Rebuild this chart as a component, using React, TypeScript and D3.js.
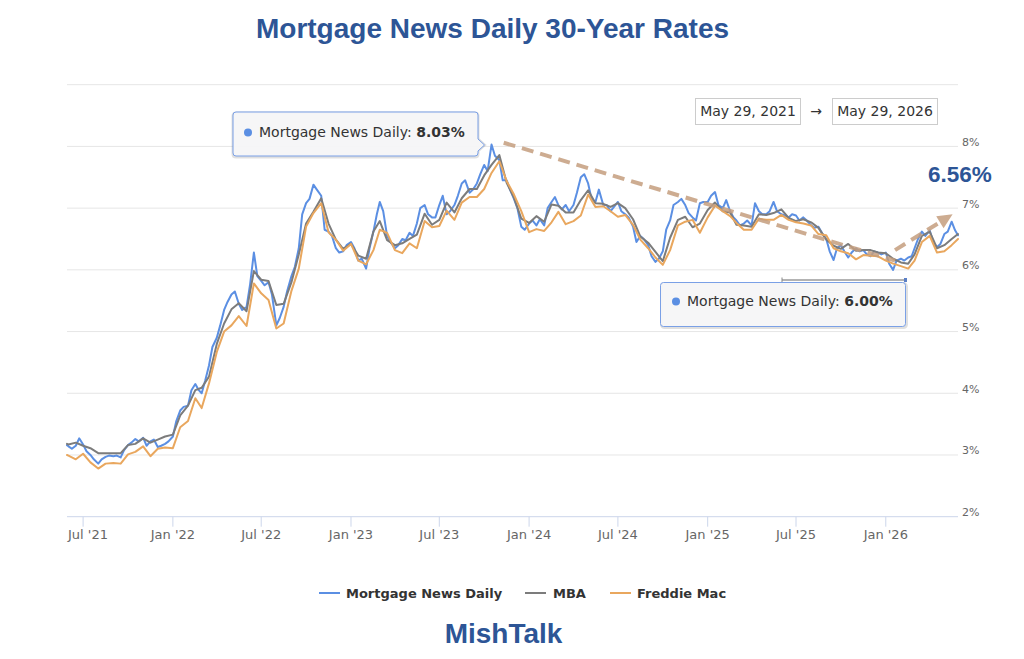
import React from "react";
import * as d3 from "d3";

// ---------------- DATA ----------------
const seriesNames = ["Mortgage News Daily", "MBA", "Freddie Mac"];
const seriesColors = ["#5b8fe3", "#7c7c7c", "#e9a75e"];

const rangeStart = "May 29, 2021";
const rangeEnd = "May 29, 2026";

// Mortgage News Daily, ~weekly (days 1, 8, 16, 23 of each month)
const mndStart = 3.16;
const mnd2021 = [
  3.14, 3.10, 3.15, 3.27, 3.17, 3.06, 3.00, 2.93, 2.86, 2.93, 2.97, 2.99,
  2.98, 2.99, 2.96, 3.08, 3.16, 3.20, 3.26, 3.22, 3.28, 3.15, 3.22, 3.25,
  3.13, 3.15, 3.18, 3.22,
];
const mnd2022 = [
  3.30, 3.55, 3.72, 3.78, 3.80, 4.05, 4.15, 4.05, 4.00, 4.20, 4.45, 4.75,
  4.90, 5.10, 5.35, 5.48, 5.60, 5.65, 5.45, 5.35, 5.40, 5.75, 6.28, 5.90,
  5.82, 5.75, 5.80, 5.60, 5.10, 5.22, 5.40, 5.65, 5.90, 6.05, 6.35, 6.90,
  7.08, 7.15, 7.38, 7.30, 7.20, 6.65, 6.62, 6.55, 6.35, 6.28, 6.30, 6.40,
];
const mnd2023 = [
  6.45, 6.35, 6.15, 6.18, 6.02, 6.35, 6.62, 6.90, 7.10, 6.95, 6.55, 6.45,
  6.35, 6.40, 6.50, 6.48, 6.60, 6.55, 6.75, 7.00, 7.05, 6.90, 6.85, 6.85,
  7.05, 7.20, 6.90, 6.95, 7.05, 7.20, 7.40, 7.45, 7.25, 7.30, 7.40, 7.55,
  7.70, 7.60, 8.03, 7.85, 7.78, 7.45, 7.45, 7.30, 7.15, 7.00, 6.70, 6.65,
];
const mnd2024 = [
  6.75, 6.80, 6.72, 6.82, 6.72, 7.00, 7.10, 7.18, 7.05, 6.98, 7.05, 6.95,
  7.05, 7.25, 7.50, 7.55, 7.40, 7.15, 7.10, 7.30, 7.05, 7.05, 6.95, 7.02,
  7.10, 6.95, 6.90, 6.85, 6.70, 6.45, 6.55, 6.50, 6.40, 6.22, 6.13, 6.18,
  6.30, 6.65, 6.80, 7.05, 7.10, 7.15, 7.05, 6.92, 6.85, 6.80, 7.08, 7.10,
];
const mnd2025 = [
  7.10, 7.20, 7.26, 7.05, 7.00, 7.13, 6.95, 6.85, 6.80, 6.72, 6.75, 6.80,
  6.72, 7.08, 6.95, 6.90, 6.90, 6.95, 7.10, 6.95, 6.90, 6.88, 6.85, 6.90,
  6.88, 6.80, 6.85, 6.80, 6.72, 6.68, 6.70, 6.60, 6.50, 6.30, 6.16, 6.35,
  6.40, 6.30, 6.20, 6.28, 6.35, 6.30, 6.32, 6.25, 6.22, 6.30, 6.28, 6.25,
];
const mnd2026 = [
  6.28, 6.10, 6.00, 6.15, 6.18, 6.15, 6.20, 6.22, 6.35, 6.50, 6.62, 6.55,
  6.64, 6.45, 6.37, 6.42, 6.58, 6.62, 6.78, 6.64,
];
const mndEnd = 6.56;

// MBA, semi-monthly (days 1, 16)
const mbaStart = 3.18;
const mba2021 = [3.17, 3.20, 3.15, 3.11, 3.03, 3.03, 3.03, 3.03, 3.16, 3.18, 3.27, 3.20, 3.25, 3.30];
const mba2022 = [
  3.33, 3.64, 3.80, 4.05, 4.09, 4.27, 4.80, 5.13, 5.36, 5.46, 5.33, 5.98,
  5.84, 5.82, 5.43, 5.45, 5.80, 6.25, 6.75, 6.94, 7.16, 6.75, 6.49, 6.34,
];
const mba2023 = [
  6.42, 6.23, 6.18, 6.62, 6.79, 6.48, 6.40, 6.43, 6.50, 6.57, 6.91, 6.73,
  6.81, 7.09, 6.93, 7.16, 7.31, 7.31, 7.53, 7.70, 7.86, 7.41, 7.17, 6.83,
];
const mba2024 = [
  6.76, 6.87, 6.78, 7.06, 7.04, 6.93, 6.93, 7.13, 7.29, 7.08, 7.07, 7.02,
  7.08, 7.00, 6.82, 6.54, 6.44, 6.29, 6.14, 6.52, 6.81, 6.86, 6.69, 6.75,
];
const mba2025 = [
  6.97, 7.09, 6.95, 6.93, 6.73, 6.72, 6.70, 6.90, 6.89, 6.92, 6.98, 6.84,
  6.79, 6.82, 6.77, 6.68, 6.49, 6.39, 6.34, 6.42, 6.31, 6.32, 6.32, 6.28,
];
const mba2026 = [6.27, 6.18, 6.12, 6.10, 6.25, 6.55, 6.62, 6.35, 6.40, 6.50];
const mbaEnd = 6.58;

// Freddie Mac, semi-monthly (days 1, 16)
const fmStart = 3.0;
const fm2021 = [2.99, 2.93, 3.02, 2.88, 2.78, 2.86, 2.87, 2.86, 3.01, 3.05, 3.14, 2.98, 3.10, 3.12];
const fm2022 = [
  3.11, 3.45, 3.55, 3.92, 3.76, 4.16, 4.67, 5.00, 5.10, 5.25, 5.09, 5.78,
  5.62, 5.51, 5.05, 5.13, 5.66, 6.02, 6.70, 6.92, 7.08, 6.61, 6.49, 6.31,
];
const fm2023 = [
  6.42, 6.15, 6.09, 6.32, 6.65, 6.60, 6.32, 6.27, 6.43, 6.35, 6.79, 6.69,
  6.71, 6.96, 6.81, 7.09, 7.18, 7.18, 7.31, 7.57, 7.76, 7.44, 7.22, 6.95,
];
const fm2024 = [
  6.61, 6.66, 6.63, 6.77, 6.94, 6.74, 6.79, 6.88, 7.22, 7.02, 7.03, 6.95,
  6.86, 6.89, 6.73, 6.49, 6.35, 6.20, 6.08, 6.32, 6.72, 6.78, 6.81, 6.60,
];
const fm2025 = [
  6.85, 7.04, 6.95, 6.87, 6.76, 6.65, 6.65, 6.83, 6.81, 6.81, 6.89, 6.81,
  6.77, 6.75, 6.72, 6.58, 6.56, 6.35, 6.30, 6.27, 6.17, 6.24, 6.23, 6.22,
];
const fm2026 = [6.15, 6.10, 6.06, 6.02, 6.15, 6.45, 6.55, 6.28, 6.30, 6.40];
const fmEnd = 6.5;

// Y ticks (percent) and x ticks
const yTicks = [2, 3, 4, 5, 6, 7, 8, 9];
const yTickLabels = ["2%", "3%", "4%", "5%", "6%", "7%", "8%", ""];
const xTickDates = [
  "2021-07-01", "2022-01-01", "2022-07-01", "2023-01-01", "2023-07-01",
  "2024-01-01", "2024-07-01", "2025-01-01", "2025-07-01", "2026-01-01",
];
const xTickLabels = [
  "Jul '21", "Jan '22", "Jul '22", "Jan '23", "Jul '23",
  "Jan '24", "Jul '24", "Jan '25", "Jul '25", "Jan '26",
];

// Trend annotations (date, value)
const trendDown = [
  { date: "2023-11-10", v: 8.06 },
  { date: "2026-01-20", v: 6.15 },
];
const trendUp = [
  { date: "2026-01-20", v: 6.32 },
  { date: "2026-05-18", v: 6.9 },
];

// ---------------- HELPERS ----------------
const parse = (s: string) => {
  const [yy, mm, dd] = s.split("-").map(Number);
  return new Date(yy, mm - 1, dd);
};

function buildDates(days: number[]) {
  const out: Date[] = [new Date(2021, 4, 29)];
  for (let m = 0; m < 60; m++) {
    for (const d of days) out.push(new Date(2021, 5 + m, d));
  }
  out.push(new Date(2026, 4, 29));
  return out;
}

const mndVals = [mndStart, ...mnd2021, ...mnd2022, ...mnd2023, ...mnd2024, ...mnd2025, ...mnd2026, mndEnd];
const mbaVals = [mbaStart, ...mba2021, ...mba2022, ...mba2023, ...mba2024, ...mba2025, ...mba2026, mbaEnd];
const fmVals = [fmStart, ...fm2021, ...fm2022, ...fm2023, ...fm2024, ...fm2025, ...fm2026, fmEnd];

const mndDates = buildDates([1, 8, 16, 23]);
const semiDates = buildDates([1, 16]);

const W = 1024;
const H = 659;

export default function App() {
  const x = d3
    .scaleTime()
    .domain([new Date(2021, 4, 29), new Date(2026, 4, 29)])
    .range([67, 958]);
  const y = d3.scaleLinear().domain([2, 9]).range([516.7, 84.7]);

  const line = d3
    .line<[Date, number]>()
    .x((d) => x(d[0]))
    .y((d) => y(d[1]));

  const series = [
    mndDates.map((d, i) => [d, mndVals[i]] as [Date, number]),
    semiDates.map((d, i) => [d, mbaVals[i]] as [Date, number]),
    semiDates.map((d, i) => [d, fmVals[i]] as [Date, number]),
  ];

  const hcFont = "'DejaVu Sans', Verdana, sans-serif";
  const arial = "'Liberation Sans', Arial, sans-serif";
  const titleBlue = "#2d5596";

  const maxV = d3.max(mndVals) as number;
  const minV = d3.min(mnd2026) as number;
  const lastV = mndVals[mndVals.length - 1];
  const fmt = (v: number) => v.toFixed(2) + "%";

  const tdP = trendDown.map((p) => [x(parse(p.date)), y(p.v)]);
  const tuP = trendUp.map((p) => [x(parse(p.date)), y(p.v)]);
  const [ux0, uy0] = tuP[0];
  const [ux1, uy1] = tuP[1];
  const ang = Math.atan2(uy1 - uy0, ux1 - ux0);
  const headLen = 15;
  const headW = 7;
  const bx = ux1 - headLen * Math.cos(ang);
  const by = uy1 - headLen * Math.sin(ang);
  const head = [
    [ux1, uy1],
    [bx + headW * Math.sin(ang), by - headW * Math.cos(ang)],
    [bx - headW * Math.sin(ang), by + headW * Math.cos(ang)],
  ];

  const trendColor = "rgba(196,158,126,0.85)";

  const legendItems = [
    { x: 319, tx: 346 },
    { x: 525, tx: 553 },
    { x: 610, tx: 637 },
  ];

  return (
    <svg
      width={W}
      height={H}
      viewBox={`0 0 ${W} ${H}`}
      style={{ position: "absolute", left: 0, top: 0, background: "#fff" }}
    >
      <rect x={0} y={0} width={W} height={H} fill="#fff" />

      {/* Title */}
      <text
        x={492.5}
        y={38}
        textAnchor="middle"
        fontFamily={arial}
        fontWeight="bold"
        fontSize={28}
        fill={titleBlue}
      >
        Mortgage News Daily 30-Year Rates
      </text>

      {/* Grid lines */}
      {yTicks.map((t) => (
        <line
          key={"g" + t}
          x1={67}
          x2={958}
          y1={y(t)}
          y2={y(t)}
          stroke={t === 2 ? "#ccd6eb" : "#e6e6e6"}
          strokeWidth={1}
        />
      ))}
      {/* Y labels */}
      {yTicks.map((t, i) => (
        <text
          key={"yl" + t}
          x={962}
          y={y(t) - 0.5}
          fontFamily={hcFont}
          fontSize={11}
          fill="#666"
        >
          {yTickLabels[i]}
        </text>
      ))}

      {/* X ticks */}
      {xTickDates.map((s, i) => {
        const xx = x(parse(s));
        return (
          <g key={"xt" + s}>
            <line x1={xx} x2={xx} y1={516.7} y2={526.7} stroke="#ccd6eb" />
            <text
              x={i === 0 ? 68 : xx}
              y={539}
              textAnchor={i === 0 ? "start" : "middle"}
              fontFamily={hcFont}
              fontSize={13}
              fill="#666"
            >
              {xTickLabels[i]}
            </text>
          </g>
        );
      })}

      {/* Series lines */}
      {series.map((s, i) => (
        <path
          key={"s" + i}
          d={line(s) || ""}
          fill="none"
          stroke={seriesColors[i]}
          strokeWidth={2}
          strokeLinejoin="round"
          strokeLinecap="round"
        />
      ))}

      {/* Trend annotations */}
      <line
        x1={tdP[0][0]}
        y1={tdP[0][1]}
        x2={tdP[1][0]}
        y2={tdP[1][1]}
        stroke={trendColor}
        strokeWidth={4}
        strokeDasharray="12,7"
      />
      <line
        x1={ux0}
        y1={uy0}
        x2={bx}
        y2={by}
        stroke={trendColor}
        strokeWidth={4}
        strokeDasharray="12,7"
      />
      <polygon points={head.map((p) => p.join(",")).join(" ")} fill={trendColor} />

      {/* Last value label */}
      <text
        x={928}
        y={182}
        fontFamily={arial}
        fontWeight="bold"
        fontSize={22.5}
        fill={titleBlue}
      >
        {fmt(lastV)}
      </text>

      {/* Tooltip 1 (max) */}
      <g>
        <path
          d="M236,113 H475 Q478,113 478,116 V139 L484.5,145 L478,151 V154 Q478,157 475,157 H236 Q233,157 233,154 V116 Q233,113 236,113 Z"
          fill="none"
          stroke="rgba(0,0,0,0.12)"
          strokeWidth={3}
        />
        <path
          d="M236,112 H475 Q478,112 478,115 V139 L484.5,145 L478,151 V153 Q478,156 475,156 H236 Q233,156 233,153 V115 Q233,112 236,112 Z"
          fill="rgba(246,246,247,0.96)"
          stroke="#7aa0e6"
          strokeWidth={1}
        />
        <circle cx={248} cy={132.5} r={4} fill={seriesColors[0]} />
        <text x={259} y={137} fontFamily={hcFont} fontSize={14} fill="#333">
          {seriesNames[0]}:{" "}
          <tspan fontWeight="bold">{fmt(maxV)}</tspan>
        </text>
      </g>

      {/* Tooltip 2 (min) */}
      <g>
        <line x1={782} x2={906} y1={280} y2={280} stroke="#666" strokeWidth={1} />
        <line x1={782} x2={782} y1={277.5} y2={282} stroke="#888" strokeWidth={1} />
        <rect
          x={661.5}
          y={283.5}
          width={245}
          height={44}
          rx={3}
          fill="none"
          stroke="rgba(0,0,0,0.12)"
          strokeWidth={3}
        />
        <rect
          x={660.5}
          y={282.5}
          width={245}
          height={44}
          rx={3}
          fill="rgba(246,246,247,0.96)"
          stroke="#7aa0e6"
          strokeWidth={1}
        />
        <rect x={904} y={278} width={3} height={4} fill="#5b7fc6" />
        <circle cx={676} cy={301.5} r={4} fill={seriesColors[0]} />
        <text x={687} y={306} fontFamily={hcFont} fontSize={14} fill="#333">
          {seriesNames[0]}:{" "}
          <tspan fontWeight="bold">{fmt(minV)}</tspan>
        </text>
      </g>

      {/* Date range selector */}
      <rect x={695.5} y={98.5} width={105} height={26} fill="#fff" stroke="#cccccc" />
      <text x={748} y={116} textAnchor="middle" fontFamily={hcFont} fontSize={14} fill="#333">
        {rangeStart}
      </text>
      <text x={816} y={116} textAnchor="middle" fontFamily={hcFont} fontSize={14} fill="#333">
        →
      </text>
      <rect x={832.5} y={98.5} width={105} height={26} fill="#fff" stroke="#cccccc" />
      <text x={885} y={116} textAnchor="middle" fontFamily={hcFont} fontSize={14} fill="#333">
        {rangeEnd}
      </text>

      {/* Legend */}
      {legendItems.map((l, i) => (
        <g key={"lg" + i}>
          <line
            x1={l.x}
            x2={l.x + 21}
            y1={593}
            y2={593}
            stroke={seriesColors[i]}
            strokeWidth={2}
          />
          <text
            x={l.tx}
            y={598}
            fontFamily={hcFont}
            fontWeight="bold"
            fontSize={13}
            fill="#333"
          >
            {seriesNames[i]}
          </text>
        </g>
      ))}

      {/* Footer */}
      <text
        x={503.5}
        y={643}
        textAnchor="middle"
        fontFamily={arial}
        fontWeight="bold"
        fontSize={28}
        fill={titleBlue}
      >
        MishTalk
      </text>
    </svg>
  );
}
